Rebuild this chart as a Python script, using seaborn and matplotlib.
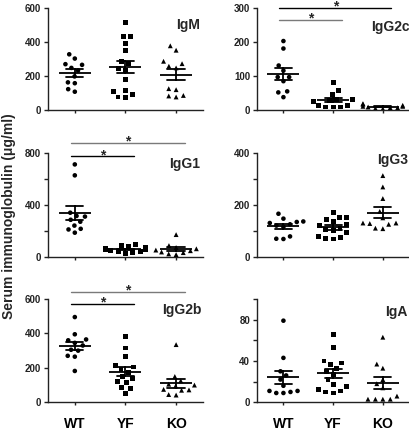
import numpy as np
import pandas as pd
import matplotlib
matplotlib.use('Agg')
import matplotlib.pyplot as plt
import seaborn as sns

groups = ['WT', 'YF', 'KO']

# values (ug/ml)
igm_wt = [330, 305, 272, 268, 250, 235, 200, 165, 160, 125, 110]
igm_yf = [515, 433, 433, 393, 350, 290, 275, 246, 236, 183, 118, 112, 94, 79, 75]
igm_ko = [380, 354, 289, 275, 260, 250, 128, 122, 88, 85, 79]

igg2c_wt = [204, 182, 132, 117, 98, 98, 86, 56, 53, 39]
igg2c_yf = [81, 59, 48, 31, 31, 31, 28, 25, 14, 14, 10, 10, 10]
igg2c_ko = [20, 18, 15, 12, 12, 10, 8, 8, 6, 5]

igg1_wt = [715, 630, 340, 315, 310, 285, 270, 240, 215, 210, 185]
igg1_yf = [95, 85, 75, 70, 65, 60, 55, 50, 45, 40, 35, 30, 25]
igg1_ko = [170, 85, 70, 60, 50, 45, 35, 30, 20, 15]

igg3_wt = [166, 147, 136, 134, 130, 125, 120, 115, 78, 69, 68]
igg3_yf = [171, 153, 150, 145, 136, 125, 120, 110, 105, 100, 92, 78, 75, 70, 68]
igg3_ko = [314, 270, 225, 175, 150, 130, 130, 128, 125, 110, 108]

igg2b_wt = [495, 395, 365, 360, 345, 330, 305, 300, 270, 265, 182]
igg2b_yf = [380, 315, 265, 215, 205, 190, 175, 150, 140, 120, 115, 85, 78, 50]
igg2b_ko = [335, 150, 125, 105, 100, 95, 75, 72, 70, 45, 42]

iga_wt = [79, 43, 30, 26, 22, 16, 11, 10, 9, 9, 11]
iga_yf = [66, 53, 40, 38, 37, 33, 30, 27, 22, 17, 15, 11, 10, 12, 9]
iga_ko = [63, 37, 33, 22, 18, 14, 6, 3, 3, 3, 3]

panel_names = ['IgM', 'IgG2c', 'IgG1', 'IgG3', 'IgG2b', 'IgA']
panel_data = {
    'IgM': (igm_wt, igm_yf, igm_ko),
    'IgG2c': (igg2c_wt, igg2c_yf, igg2c_ko),
    'IgG1': (igg1_wt, igg1_yf, igg1_ko),
    'IgG3': (igg3_wt, igg3_yf, igg3_ko),
    'IgG2b': (igg2b_wt, igg2b_yf, igg2b_ko),
    'IgA': (iga_wt, iga_yf, iga_ko),
}
y_max = {'IgM': 600, 'IgG2c': 300, 'IgG1': 800, 'IgG3': 400, 'IgG2b': 600, 'IgA': 100}
y_step = {'IgM': 200, 'IgG2c': 100, 'IgG1': 200, 'IgG3': 100, 'IgG2b': 200, 'IgA': 20}
label_every = {'IgM': 1, 'IgG2c': 1, 'IgG1': 2, 'IgG3': 2, 'IgG2b': 1, 'IgA': 2}

# significance bars: (group_a, group_b, y, color)
sig_bars = {
    'IgG2c': [('WT', 'KO', 301, 'black'), ('WT', 'YF', 266, '#7a7a7a')],
    'IgG1': [('WT', 'KO', 878, '#7a7a7a'), ('WT', 'YF', 777, 'black')],
    'IgG2b': [('WT', 'KO', 640, '#7a7a7a'), ('WT', 'YF', 570, 'black')],
}

markers = {'WT': 'o', 'YF': 's', 'KO': '^'}
msize = {'WT': 3.3, 'YF': 3.5, 'KO': 3.5}

sns.set_style('ticks')
plt.rcParams['font.family'] = ['Liberation Sans', 'DejaVu Sans']
plt.rcParams['font.weight'] = 'bold'

fig = plt.figure(figsize=(4.1, 4.33), dpi=100)

col_left = [0.117, 0.627]
col_width = [0.378, 0.371]
row_bottom = [0.745, 0.4076, 0.0709]
row_height = [0.2356, 0.238, 0.2386]
label_pos = {'IgM': (0.98, 0.84), 'IgG2c': (1.0, 0.82), 'IgG1': (0.98, 0.90),
             'IgG3': (0.99, 0.94), 'IgG2b': (0.99, 0.89), 'IgA': (0.99, 0.87)}

for i, name in enumerate(panel_names):
    r, c = divmod(i, 2)
    ax = fig.add_axes([col_left[c], row_bottom[r], col_width[c], row_height[r]])
    vals = panel_data[name]
    df = pd.DataFrame({
        'group': np.repeat(groups, [len(v) for v in vals]),
        'value': np.concatenate(vals),
    })

    # wide invisible edge just spaces the swarm out a bit
    for g in groups:
        sns.swarmplot(data=df[df['group'] == g], x='group', y='value', order=groups,
                      marker=markers[g], size=msize[g], color='black',
                      linewidth=1.6, edgecolor='none', ax=ax, warn_thresh=1)

    sns.pointplot(data=df, x='group', y='value', order=groups, errorbar='se',
                  capsize=0.34, color='black', marker='_', markersize=23,
                  markeredgewidth=1.3, linestyle='none',
                  err_kws={'linewidth': 1.3}, ax=ax)

    ax.set_xlim(-0.53, 2.53)
    ax.set_ylim(0, y_max[name])
    ticks = np.arange(0, y_max[name] + 1, y_step[name])
    ax.set_yticks(ticks)
    ax.set_yticklabels([f'{t:d}' if k % label_every[name] == 0 else ''
                        for k, t in enumerate(ticks)])
    ax.set(xlabel='', ylabel='')
    ax.set_xticks(range(3))
    if r == 2:
        ax.set_xticklabels(groups, fontsize=10, fontweight='bold')
    else:
        ax.set_xticklabels([])
    ax.tick_params(axis='x', length=2.5, width=1, pad=8, colors='#222222')
    ax.tick_params(axis='y', length=3, width=1, pad=2, labelsize=7, colors='#222222')
    for lbl in ax.get_yticklabels():
        lbl.set_fontweight('bold')
    for lbl in ax.get_xticklabels():
        lbl.set_color('black')
    sns.despine(ax=ax)
    for s in ['left', 'bottom']:
        ax.spines[s].set_linewidth(1.0)
        ax.spines[s].set_color('#222222')

    tx, ty = label_pos[name]
    ax.text(tx, ty, name, transform=ax.transAxes, ha='right', va='center',
            fontsize=10, fontweight='bold')

    for ga, gb, yv, col in sig_bars.get(name, []):
        x0 = groups.index(ga) - 0.08
        x1 = groups.index(gb) + 0.17
        ax.plot([x0, x1], [yv, yv], color=col, lw=1.0, clip_on=False)
        ax.annotate('*', xy=((x0 + x1) / 2, yv), xytext=(0, -4),
                    textcoords='offset points', ha='center', va='bottom',
                    fontsize=10, fontweight='bold', annotation_clip=False)

fig.text(0.022, 0.5, 'Serum immunoglobulin (\u03bcg/ml)', rotation=90,
         ha='center', va='center', fontsize=10, fontweight='bold')

fig.savefig('out.png', dpi=100)
